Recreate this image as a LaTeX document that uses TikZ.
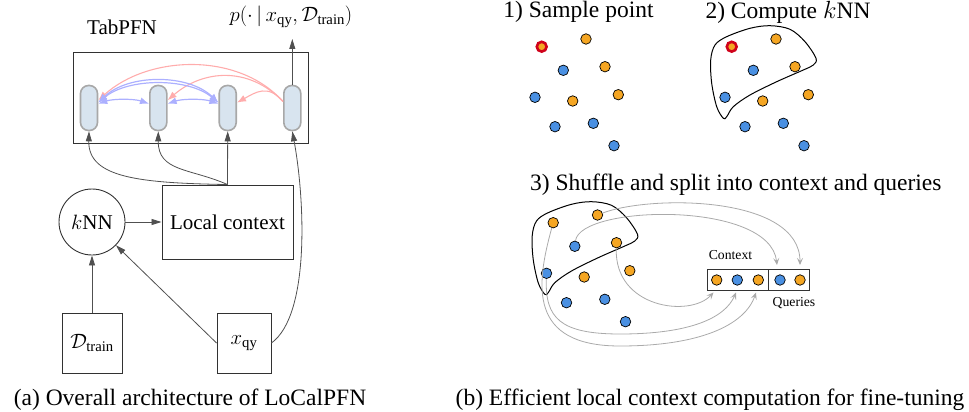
\documentclass[tikz,border=0pt]{standalone}
\usepackage{fontspec}
\setmainfont{Liberation Serif}
\usetikzlibrary{arrows.meta,calc}
\definecolor{ptor}{RGB}{245,166,35}
\definecolor{ptbl}{RGB}{74,144,226}
\definecolor{ptred}{RGB}{208,2,27}
\definecolor{pillfill}{RGB}{216,228,239}
\definecolor{pillline}{RGB}{168,168,168}
\definecolor{attblue}{RGB}{172,176,255}
\definecolor{attred}{RGB}{255,172,172}
\definecolor{conncol}{RGB}{80,80,80}
\definecolor{framecol}{RGB}{50,50,50}
\definecolor{flowcol}{RGB}{170,170,170}
\tikzset{
  lbl/.style={font=\fontsize{21}{25}\selectfont, inner sep=0pt},
  ttl/.style={font=\fontsize{23.5}{28}\selectfont, inner sep=0pt},
  captxt/.style={font=\fontsize{23.5}{28}\selectfont, inner sep=0pt},
  small/.style={font=\fontsize{13.7}{16}\selectfont, inner sep=0pt},
  boxnode/.style={draw=framecol, line width=0.9pt, inner sep=0pt, font=\fontsize{21}{25}\selectfont},
  pill/.style={draw=pillline, line width=1.6pt, fill=pillfill, rounded corners=8pt,
    minimum width=17pt, minimum height=45pt, inner sep=0pt},
  conn/.style={draw=conncol, line width=0.8pt, -{Triangle[length=10pt,width=6pt]}, fill=none},
  attb/.style={draw=attblue, line width=1.2pt, {Latex[length=9pt,width=7pt]}-{Latex[length=9pt,width=7pt]}},
  attr/.style={draw=attred, line width=1.1pt, -{Latex[length=9pt,width=7pt]}},
  ptO/.style={circle, draw=black, line width=0.7pt, fill=ptor, minimum size=10.5pt, inner sep=0pt},
  ptB/.style={circle, draw=black, line width=0.7pt, fill=ptbl, minimum size=10.5pt, inner sep=0pt},
  ptR/.style={circle, draw=ptred, line width=2.6pt, fill=ptor, minimum size=9.8pt, inner sep=0pt},
  blob/.style={draw=black, line width=1pt},
  flow/.style={draw=flowcol, line width=0.8pt, -{Stealth[length=7pt,width=6pt,inset=3pt]}},
  cb/.style={draw=black!80, line width=0.9pt, minimum height=20.7pt, inner sep=0pt},
}
\newcommand{\dotset}[1]{%
  \node[#1] (n1) at (541.7,46.7) {};
  \node[ptO] (n2) at (586,39) {};
  \node[ptB] (n3) at (563.3,70.3) {};
  \node[ptO] (n4) at (605,66.7) {};
  \node[ptB] (n5) at (535,97.3) {};
  \node[ptO] (n6) at (572.7,101) {};
  \node[ptO] (n7) at (618.3,94.7) {};
  \node[ptB] (n8) at (555,126.7) {};
  \node[ptB] (n9) at (593.3,123.3) {};
  \node[ptB] (n10) at (614,145.7) {};
}
\newcommand{\blobshape}{%
  \draw[blob] plot[smooth cycle, tension=0.55] coordinates {
    (533.3,118.3) (526.7,106.7) (521.7,83.3) (520.7,60) (525,45) (536.7,36.7)
    (560,28.3) (580,25.7) (600,29.3) (615,41.7) (626,58.3) (623.3,65)
    (613.3,70) (586.7,81.7) (560,95) (543.3,106.7) (536.7,116.7)};
}
\begin{document}
\begin{tikzpicture}[x=1pt,y=-1pt]
\useasboundingbox (0,0) rectangle (969,412);

% ---------- panel (a) ----------
\node[lbl] (tabpfn) at (122,27) {TabPFN};
\node[lbl] (out) at (291,17) {$p(\cdot\,|\,x_{\mathrm{qy}},\mathcal{D}_{\mathrm{train}})$};
\node[draw=framecol, line width=0.9pt, minimum width=235pt, minimum height=91pt, inner sep=0pt] (tbox) at (190.5,97.5) {};
\node[pill] (p1) at (89,108) {};
\node[pill] (p2) at (158.3,108) {};
\node[pill] (p3) at (227.7,108) {};
\node[pill] (p4) at (292.3,108) {};

\node[boxnode, minimum width=131pt, minimum height=74pt] (lc) at (227.5,222) {Local context};
\node[boxnode, circle, minimum size=66pt] (knn) at (92,222) {$k$NN};
\node[boxnode, minimum width=60pt, minimum height=60pt] (dtr) at (92,343) {$\mathcal{D}_{\mathrm{train}}$};
\node[boxnode, minimum width=54pt, minimum height=60pt] (xqy) at (244,343) {$x_{\mathrm{qy}}$};
\coordinate (outtip) at (292.3,39);

% attention arrows
\draw[attr] (p4.145) .. controls +(-45,-50) and +(50,-45) .. (p1.40);
\draw[attr] (p4.145) .. controls +(-35,-36) and +(35,-30) .. (p2.40);
\draw[attr] (p4.145) .. controls +(-15,-18) and +(18,-10) .. (p3.30);
\draw[attb] (p1.30) .. controls +(30,-29) and +(-30,-29) .. (p3.150);
\draw[attb] (p1.30) .. controls +(30,-25) and +(-30,-25) .. (p3.150);
\draw[attb] (p1.25) .. controls +(15,-5) and +(-15,-5) .. (p2.155);
\draw[attb] (p2.25) .. controls +(15,-5) and +(-15,-5) .. (p3.155);

% connectors
\draw[conn] (p4.north) -- (outtip);
\draw[conn] (lc.north) .. controls (140,183) and (88,178) .. (p1.south);
\draw[conn] (lc.north) .. controls (190,168) and (158,172) .. (p2.south);
\draw[conn] (lc.north) -- (p3.south);
\draw[conn] (xqy.east) .. controls (310,315) and (305,200) .. (p4.south);
\draw[conn] (knn) -- (lc);
\draw[conn] (dtr) -- (knn);
\draw[conn] (xqy.west) -- (knn);

\node[captxt] (capa) at (190,400) {(a) Overall architecture of LoCalPFN};

% ---------- panel (b) ----------
\node[ttl] (t1) at (578.5,12) {1) Sample point};
\node[ttl] (t2) at (788,12) {2) Compute $k$NN};
\node[ttl] (t3) at (735.8,185) {3) Shuffle and split into context and queries};

\begin{scope}[name prefix=A-]
  \dotset{ptR}
\end{scope}
\begin{scope}[shift={(190,0)}, name prefix=B-]
  \blobshape
  \dotset{ptR}
\end{scope}
\begin{scope}[shift={(11.5,176)}, name prefix=C-]
  \blobshape
\end{scope}

\coordinate (qin1) at (777,265);
\coordinate (qin2) at (800,265);
\coordinate (cin1) at (713.5,292.5);
\coordinate (cin2) at (736,292.5);
\coordinate (cin3) at (756,292.5);
\begin{scope}[shift={(11.5,176)}, name prefix=C-]
  \dotset{ptO}
\end{scope}
\draw[flow] (C-n2) .. controls (650,195) and (800,195) .. (qin2);
\draw[flow] (C-n3) .. controls (580,205) and (770,200) .. (qin1);
\draw[flow] (C-n4) .. controls (614,308) and (690,318) .. (cin1);
\draw[flow] (C-n1) .. controls (536,285) and (528,346) .. (620,346) .. controls (700,346) and (745,325) .. (cin3);
\draw[flow] (C-n5) .. controls (545,318) and (560,334) .. (620,334) .. controls (690,334) and (725,318) .. (cin2);

\node[cb, minimum width=61.4pt] (ctxbox) at (738,279.7) {};
\node[cb, minimum width=40.6pt] (qbox) at (789,279.7) {};
\node[ptO] (c1) at (716.7,280) {};
\node[ptB] (c2) at (737.3,280) {};
\node[ptO] (c3) at (758.3,280) {};
\node[ptB] (q1) at (780,280) {};
\node[ptO] (q2) at (800,280) {};
\node[small] (ctxlbl) at (730.5,255) {Context};
\node[small] (qlbl) at (794,303) {Queries};

\node[captxt] (capb) at (710,400) {(b) Efficient local context computation for fine-tuning};
\end{tikzpicture}
\end{document}
